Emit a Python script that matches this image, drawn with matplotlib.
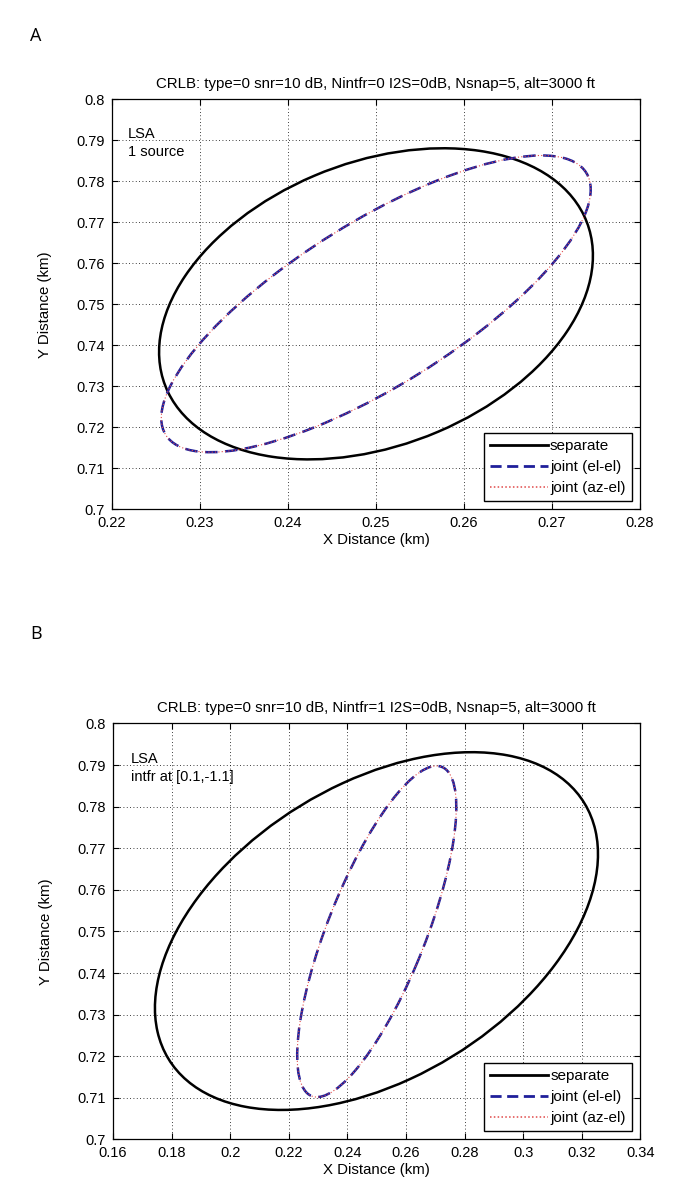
import numpy as np
import matplotlib
matplotlib.use("Agg")
import matplotlib.pyplot as plt
from matplotlib.patches import Ellipse
from matplotlib.lines import Line2D
from matplotlib.ticker import FuncFormatter

plt.rcParams['font.family'] = ['Liberation Sans', 'DejaVu Sans']

# ellipse data: centre, half-extent in x and y, x-y correlation
# panel A (1 source)
a_sep = dict(cx=0.2500, cy=0.7501, sx=0.02465, sy=0.0379, rho=0.31)
a_joint = dict(cx=0.2500, cy=0.7501, sx=0.0244, sy=0.03615, rho=0.77)
# panel B (interferer at [0.1,-1.1])
b_sep = dict(cx=0.2499, cy=0.7501, sx=0.0756, sy=0.0430, rho=0.43)
b_joint = dict(cx=0.2500, cy=0.7500, sx=0.02715, sy=0.0398, rho=0.75)

a_xticks = [0.22, 0.23, 0.24, 0.25, 0.26, 0.27, 0.28]
b_xticks = [0.16, 0.18, 0.20, 0.22, 0.24, 0.26, 0.28, 0.30, 0.32, 0.34]
yticks = [0.70, 0.71, 0.72, 0.73, 0.74, 0.75, 0.76, 0.77, 0.78, 0.79, 0.80]

titles = ["CRLB: type=0 snr=10 dB, Nintfr=0 I2S=0dB, Nsnap=5, alt=3000 ft",
          "CRLB: type=0 snr=10 dB, Nintfr=1 I2S=0dB, Nsnap=5, alt=3000 ft"]
notes = ["LSA\n1 source", "LSA\nintfr at [0.1,-1.1]"]
legend_labels = ["separate", "joint (el-el)", "joint (az-el)"]

blue = '#1f1f9a'
red = '#e04848'


def ellipse_patch(p, **kw):
    # covariance-style matrix -> width/height/angle in data space
    c = np.array([[p['sx']**2, p['rho']*p['sx']*p['sy']],
                  [p['rho']*p['sx']*p['sy'], p['sy']**2]])
    vals, vecs = np.linalg.eigh(c)
    ang = np.degrees(np.arctan2(vecs[1, 1], vecs[0, 1]))
    return Ellipse((p['cx'], p['cy']), 2*np.sqrt(vals[1]), 2*np.sqrt(vals[0]),
                   angle=ang, fill=False, **kw)


def gfmt(v, pos):
    return ('%g' % round(v, 4))


fig = plt.figure(figsize=(6.85, 12.03), dpi=100)
axA = fig.add_axes([0.1635, 0.5765, 0.7708, 0.3412])
axB = fig.add_axes([0.1650, 0.0528, 0.7700, 0.3458])

panels = [(axA, a_sep, a_joint, a_xticks, titles[0], notes[0], 0.2218),
          (axB, b_sep, b_joint, b_xticks, titles[1], notes[1], 0.1660)]

for ax, sep, joint, xt, ttl, note, nx in panels:
    ax.add_patch(ellipse_patch(sep, edgecolor='black', lw=1.8, zorder=3))
    ax.add_patch(ellipse_patch(joint, edgecolor=blue, lw=1.8, linestyle=(0, (5, 3)), zorder=4))
    ax.add_patch(ellipse_patch(joint, edgecolor=red, lw=0.8, linestyle=(0, (1, 2)), zorder=5))
    ax.set_xlim(xt[0], xt[-1])
    ax.set_ylim(0.7, 0.8)
    ax.set_xticks(xt)
    ax.set_yticks(yticks)
    ax.xaxis.set_major_formatter(FuncFormatter(gfmt))
    ax.yaxis.set_major_formatter(FuncFormatter(gfmt))
    ax.tick_params(direction='in', top=True, right=True, length=4, width=0.8,
                   labelsize=10.5)
    ax.tick_params(axis='x', pad=5)
    ax.tick_params(axis='y', pad=5)
    ax.grid(True, color='black', linestyle=(0, (1, 3)), linewidth=0.6)
    ax.set_axisbelow(True)
    for s in ax.spines.values():
        s.set_linewidth(0.9)
    ax.set_title(ttl, fontsize=10.8, pad=8)
    ax.set_xlabel("X Distance (km)", fontsize=10.8, labelpad=2)
    ax.set_ylabel("Y Distance (km)", fontsize=10.8, labelpad=18)
    ax.text(nx, 0.7893, note, fontsize=10.5, va='center', ha='left', linespacing=1.3)
    handles = [Line2D([], [], color='black', lw=2),
               Line2D([], [], color=blue, lw=2, linestyle=(0, (4, 2))),
               Line2D([], [], color=red, lw=1.1, linestyle=(0, (1, 1.5)))]
    ax.legend(handles, legend_labels, loc='lower right', fontsize=11, fancybox=False,
              edgecolor='black', framealpha=1, borderaxespad=0.55, handlelength=3.8,
              handletextpad=0.15, labelspacing=0.45, borderpad=0.4)

fig.text(0.044, 0.966, "A", fontsize=13, family=['Open Sans', 'DejaVu Sans'])
fig.text(0.044, 0.469, "B", fontsize=13, family=['Open Sans', 'DejaVu Sans'])

fig.savefig('out.png', dpi=100)
